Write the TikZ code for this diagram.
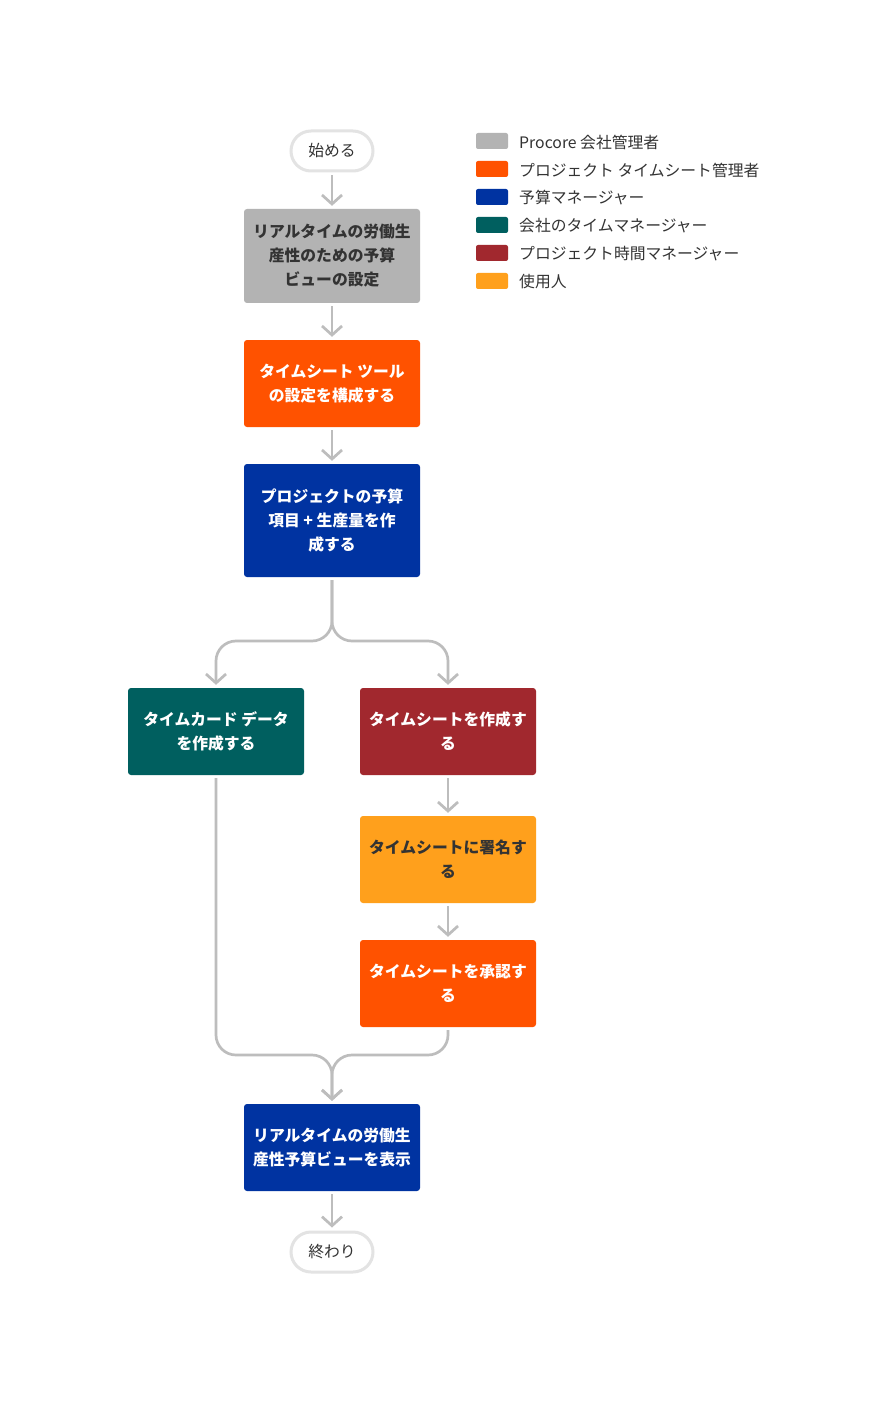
\documentclass[tikz,border=0pt]{standalone}
\usepackage{fontspec}
\setmainfont{Noto Sans CJK JP}
\usetikzlibrary{arrows.meta}
\definecolor{cgray}{HTML}{B3B3B3}
\definecolor{corange}{HTML}{FF5200}
\definecolor{cblue}{HTML}{0033A1}
\definecolor{cteal}{HTML}{005F5F}
\definecolor{cred}{HTML}{A1282E}
\definecolor{cyellow}{HTML}{FFA01C}
\definecolor{cline}{HTML}{BDBDBD}
\definecolor{cpill}{HTML}{E3E3E3}
\definecolor{ctext}{HTML}{333333}
\begin{document}
\begin{tikzpicture}[x=1pt,y=-1pt,
  box/.style={rectangle, rounded corners=3pt, minimum width=176pt, minimum height=87pt, align=center, font=\fontsize{15.8}{24}\selectfont\bfseries, text=white, inner sep=0pt},
  pill/.style={rectangle, rounded corners=20pt, draw=cpill, line width=3pt, fill=white, minimum width=82pt, minimum height=40pt, font=\fontsize{15.8}{20}\selectfont, text=ctext},
  arr/.style={draw=cline, line width=2.7pt, -{Straight Barb[length=9pt,width=20pt,line width=2.7pt]}, shorten >=3pt, shorten <=3pt},
  sw/.style={rectangle, rounded corners=2pt, minimum width=32pt, minimum height=16pt, inner sep=0pt},
  leg/.style={anchor=west, font=\fontsize{15.8}{18}\selectfont, text=ctext, inner sep=0pt}
]
\useasboundingbox (0,0) rectangle (888,1404);
\fill[white] (0,0) rectangle (888,1404);

\node[pill] (start) at (332,151) {始める};
\node[box, fill=cgray, text=ctext, minimum height=94pt] (b1) at (332,256) {リアルタイムの労働生\\産性のための予算\\ビューの設定};
\node[box, fill=corange] (b2) at (332,383.5) {タイムシート ツール\\の設定を構成する};
\node[box, fill=cblue, minimum height=113pt] (b3) at (332,520.5) {プロジェクトの予算\\項目 + 生産量を作\\成する};
\node[box, fill=cteal] (tc) at (216,731.5) {タイムカード データ\\を作成する};
\node[box, fill=cred] (ts) at (448,731.5) {タイムシートを作成す\\る};
\node[box, fill=cyellow, text=ctext] (sg) at (448,859.5) {タイムシートに署名す\\る};
\node[box, fill=corange] (ap) at (448,983.5) {タイムシートを承認す\\る};
\node[box, fill=cblue] (b4) at (332,1147.5) {リアルタイムの労働生\\産性予算ビューを表示};
\node[pill] (end) at (332,1252) {終わり};

\draw[arr] (start) -- (b1);
\draw[arr] (b1) -- (b2);
\draw[arr] (b2) -- (b3);
\coordinate (split) at (332,641);
\coordinate (merge) at (332,1055);
\draw[arr, rounded corners=20pt] (b3.south) -- (split) -| (tc.north);
\draw[arr, rounded corners=20pt] (b3.south) -- (split) -| (ts.north);
\draw[arr] (ts) -- (sg);
\draw[arr] (sg) -- (ap);
\draw[arr, rounded corners=20pt] (tc.south) |- (merge) -- (b4.north);
\draw[arr, rounded corners=20pt] (ap.south) |- (merge) -- (b4.north);
\draw[arr] (b4) -- (end);

\node[sw, fill=cgray] (s1) at (492,141) {};
\node[sw, fill=corange] (s2) at (492,169) {};
\node[sw, fill=cblue] (s3) at (492,197) {};
\node[sw, fill=cteal] (s4) at (492,225) {};
\node[sw, fill=cred] (s5) at (492,253) {};
\node[sw, fill=cyellow] (s6) at (492,281) {};
\node[leg] (l1) at (519,142) {Procore 会社管理者};
\node[leg] (l2) at (519,170) {プロジェクト タイムシート管理者};
\node[leg] (l3) at (519,198) {予算マネージャー};
\node[leg] (l4) at (519,226) {会社のタイムマネージャー};
\node[leg] (l5) at (519,254) {プロジェクト時間マネージャー};
\node[leg] (l6) at (519,282) {使用人};
\end{tikzpicture}
\end{document}
